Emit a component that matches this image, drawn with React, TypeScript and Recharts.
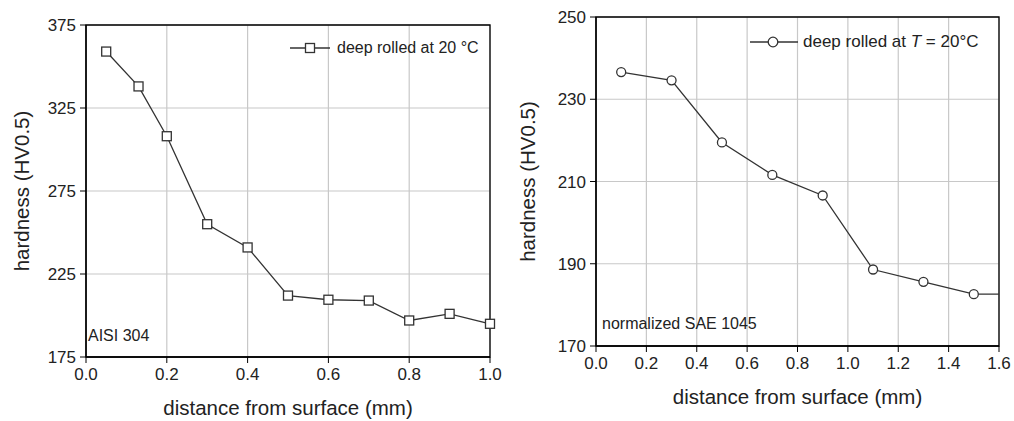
import React from "react";
import {
  LineChart,
  Line,
  XAxis,
  YAxis,
  CartesianGrid,
  ReferenceArea,
  Legend,
} from "recharts";

// AISI 304 (left panel)
const leftDepth = [0.05, 0.13, 0.2, 0.3, 0.4, 0.5, 0.6, 0.7, 0.8, 0.9, 1.0];
const leftHardness = [359, 338, 308, 255, 241, 212, 209.5, 209, 197, 201, 195];
const leftXTicks = [0, 0.2, 0.4, 0.6, 0.8, 1.0];
const leftYTicks = [175, 225, 275, 325, 375];

// normalized SAE 1045 (right panel); last point has no marker, line runs to the frame
const rightDepth = [0.1, 0.3, 0.5, 0.7, 0.9, 1.1, 1.3, 1.5, 1.6];
const rightHardness = [236.6, 234.6, 219.5, 211.6, 206.6, 188.6, 185.6, 182.6, 182.6];
const rightXTicks = [0, 0.2, 0.4, 0.6, 0.8, 1.0, 1.2, 1.4, 1.6];
const rightYTicks = [170, 190, 210, 230, 250];

const leftData = leftDepth.map((x, i) => ({ x, y: leftHardness[i] }));
const rightData = rightDepth.map((x, i) => ({ x, y: rightHardness[i] }));

const FONT = "'Liberation Sans', Arial, Helvetica, sans-serif";
const TEXT = "#222";
const LINE = "#333";
const GRID = "#c8c8c8";

const tickStyle = { fill: TEXT, fontSize: 17, fontFamily: FONT };
const titleStyle = { fill: TEXT, fontSize: 20.5, fontFamily: FONT };

const SquareDot = (props: any) => {
  const { cx, cy, index } = props;
  return (
    <rect
      key={`sq-${index}`}
      x={cx - 4.5}
      y={cy - 4.5}
      width={9}
      height={9}
      fill="#fff"
      stroke={LINE}
      strokeWidth={1.3}
    />
  );
};

const CircleDot = (props: any) => {
  const { cx, cy, index } = props;
  if (index === rightDepth.length - 1) return <g key={`c-${index}`} />;
  return (
    <circle
      key={`c-${index}`}
      cx={cx}
      cy={cy}
      r={4.5}
      fill="#fff"
      stroke={LINE}
      strokeWidth={1.3}
    />
  );
};

const LegendLeft = () => (
  <div
    style={{
      display: "flex",
      alignItems: "center",
      fontFamily: FONT,
      fontSize: 16,
      color: TEXT,
      whiteSpace: "nowrap",
    }}
  >
    <svg width={42} height={12}>
      <line x1={0} y1={6} x2={40} y2={6} stroke={LINE} strokeWidth={1.3} />
      <rect x={15.5} y={1.5} width={9} height={9} fill="#fff" stroke={LINE} strokeWidth={1.3} />
    </svg>
    <span style={{ marginLeft: 5 }}>deep rolled at 20 °C</span>
  </div>
);

const LegendRight = () => (
  <div
    style={{
      display: "flex",
      alignItems: "center",
      fontFamily: FONT,
      fontSize: 17,
      color: TEXT,
      whiteSpace: "nowrap",
    }}
  >
    <svg width={49} height={12}>
      <line x1={0} y1={6} x2={48} y2={6} stroke={LINE} strokeWidth={1.3} />
      <circle cx={23} cy={6} r={4.8} fill="#fff" stroke={LINE} strokeWidth={1.3} />
    </svg>
    <span style={{ marginLeft: 4 }}>
      deep rolled at <i>T</i> = 20°C
    </span>
  </div>
);

const noteStyle: React.CSSProperties = {
  position: "absolute",
  fontFamily: FONT,
  fontSize: 16,
  lineHeight: "16px",
  color: TEXT,
  whiteSpace: "nowrap",
};

export default function App() {
  return (
    <div style={{ position: "absolute", left: 0, top: 0, width: 1014, height: 421, background: "#fff" }}>
      <div style={{ position: "absolute", left: 0, top: 0, width: 506, height: 421 }}>
        <LineChart
          width={506}
          height={421}
          data={leftData}
          margin={{ top: 25, right: 16, bottom: 4, left: 0 }}
        >
          <CartesianGrid stroke={GRID} strokeWidth={1.2} />
          <XAxis
            type="number"
            dataKey="x"
            domain={[0, 1]}
            ticks={leftXTicks}
            interval={0}
            tickFormatter={(v: number) => v.toFixed(1)}
            height={60}
            tick={tickStyle}
            tickSize={6}
            tickMargin={5}
            tickLine={{ stroke: "#000" }}
            axisLine={{ stroke: "#000", strokeWidth: 1.3 }}
            label={{ value: "distance from surface (mm)", position: "insideBottom", offset: 2, style: titleStyle }}
          />
          <YAxis
            type="number"
            domain={[175, 375]}
            ticks={leftYTicks}
            interval={0}
            width={86}
            tick={tickStyle}
            tickSize={6}
            tickMargin={4}
            tickLine={{ stroke: "#000" }}
            axisLine={{ stroke: "#000", strokeWidth: 1.3 }}
            label={{
              value: "hardness (HV0.5)",
              angle: -90,
              position: "insideLeft",
              offset: 22,
              style: { ...titleStyle, textAnchor: "middle" },
            }}
          />
          <ReferenceArea x1={0} x2={1} y1={175} y2={375} fill="none" stroke="#000" strokeWidth={1.3} />
          <Line
            type="linear"
            dataKey="y"
            stroke={LINE}
            strokeWidth={1.3}
            dot={SquareDot}
            isAnimationActive={false}
          />
          <Legend
            layout="horizontal"
            verticalAlign="middle"
            align="center"
            content={LegendLeft}
            wrapperStyle={{ left: 290, top: 39, width: "auto" }}
          />
        </LineChart>
        <div style={{ ...noteStyle, left: 88, top: 328 }}>AISI 304</div>
      </div>

      <div style={{ position: "absolute", left: 506, top: 0, width: 508, height: 421 }}>
        <LineChart
          width={508}
          height={421}
          data={rightData}
          margin={{ top: 17, right: 15, bottom: 15, left: 0 }}
        >
          <CartesianGrid stroke={GRID} strokeWidth={1.2} />
          <XAxis
            type="number"
            dataKey="x"
            domain={[0, 1.6]}
            ticks={rightXTicks}
            interval={0}
            tickFormatter={(v: number) => v.toFixed(1)}
            height={60}
            tick={tickStyle}
            tickSize={6}
            tickMargin={5}
            tickLine={{ stroke: "#000" }}
            axisLine={{ stroke: "#000", strokeWidth: 1.3 }}
            label={{ value: "distance from surface (mm)", position: "insideBottom", offset: 2, style: titleStyle }}
          />
          <YAxis
            type="number"
            domain={[170, 250]}
            ticks={rightYTicks}
            interval={0}
            width={90}
            tick={tickStyle}
            tickSize={6}
            tickMargin={4}
            tickLine={{ stroke: "#000" }}
            axisLine={{ stroke: "#000", strokeWidth: 1.3 }}
            label={{
              value: "hardness (HV0.5)",
              angle: -90,
              position: "insideLeft",
              offset: 22,
              style: { ...titleStyle, textAnchor: "middle" },
            }}
          />
          <ReferenceArea x1={0} x2={1.6} y1={170} y2={250} fill="none" stroke="#000" strokeWidth={1.3} />
          <Line
            type="linear"
            dataKey="y"
            stroke={LINE}
            strokeWidth={1.3}
            dot={CircleDot}
            isAnimationActive={false}
          />
          <Legend
            layout="horizontal"
            verticalAlign="middle"
            align="center"
            content={LegendRight}
            wrapperStyle={{ left: 244, top: 32, width: "auto" }}
          />
        </LineChart>
        <div style={{ ...noteStyle, left: 96, top: 316 }}>normalized SAE 1045</div>
      </div>
    </div>
  );
}
